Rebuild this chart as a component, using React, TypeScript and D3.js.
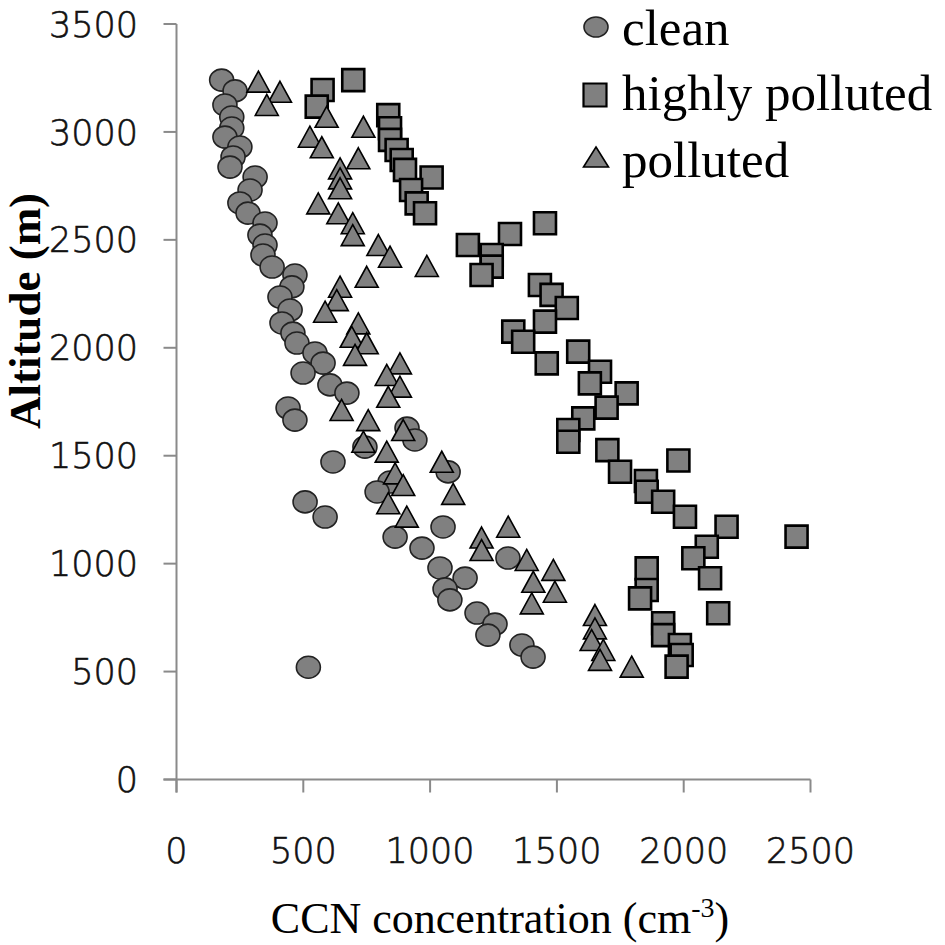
import React from "react";
import * as d3 from "d3";

const cleanCCN = [178, 231, 191, 218, 218, 191, 250, 223, 211, 310, 290, 250, 282, 349, 329, 349, 341, 377, 467, 455, 408, 448, 416, 459, 475, 546, 578, 499, 605, 672, 440, 467, 909, 940, 743, 617, 1071, 842, 791, 507, 586, 1051, 862, 968, 1307, 1039, 1138, 1059, 1078, 1185, 1256, 1228, 1362, 1406, 520];
const cleanAlt = [3240, 3190, 3125, 3069, 3018, 2976, 2930, 2884, 2837, 2791, 2731, 2671, 2624, 2578, 2522, 2476, 2430, 2374, 2337, 2282, 2235, 2175, 2115, 2068, 2022, 1976, 1929, 1883, 1828, 1790, 1721, 1665, 1628, 1573, 1540, 1471, 1425, 1378, 1332, 1286, 1216, 1170, 1123, 1072, 1026, 980, 933, 883, 832, 771, 720, 669, 623, 567, 520];

const highCCN = [697, 576, 553, 835, 842, 842, 868, 888, 901, 1006, 925, 947, 980, 1453, 1315, 1149, 1243, 1243, 1203, 1433, 1479, 1539, 1453, 1328, 1367, 1584, 1460, 1670, 1630, 1775, 1696, 1604, 1545, 1545, 1699, 1979, 1749, 1851, 1854, 1919, 2005, 2169, 2445, 2091, 2038, 2104, 1854, 1854, 1828, 2136, 1919, 1919, 1985, 1992, 1972];
const highAlt = [3240, 3194, 3117, 3078, 3017, 2963, 2916, 2870, 2824, 2789, 2731, 2669, 2623, 2577, 2527, 2476, 2430, 2376, 2337, 2291, 2245, 2184, 2121, 2075, 2028, 1982, 1928, 1889, 1835, 1789, 1723, 1673, 1619, 1565, 1526, 1478, 1426, 1383, 1333, 1287, 1217, 1171, 1125, 1078, 1025, 932, 978, 878, 839, 770, 724, 669, 623, 577, 523];

const pollCCN = [323, 408, 356, 592, 737, 526, 573, 717, 645, 645, 645, 559, 638, 695, 695, 796, 842, 987, 750, 645, 632, 586, 717, 691, 750, 704, 881, 829, 881, 835, 651, 756, 894, 737, 829, 1046, 862, 894, 1091, 835, 908, 1308, 1203, 1203, 1381, 1486, 1407, 1492, 1401, 1650, 1650, 1637, 1683, 1670, 1795];
const pollAlt = [3233, 3186, 3125, 3070, 3024, 2978, 2929, 2878, 2831, 2785, 2739, 2669, 2623, 2577, 2522, 2476, 2422, 2379, 2329, 2283, 2221, 2167, 2113, 2051, 2021, 1967, 1928, 1874, 1820, 1773, 1712, 1665, 1619, 1565, 1519, 1472, 1418, 1364, 1323, 1280, 1218, 1171, 1121, 1063, 1017, 971, 916, 870, 816, 762, 700, 646, 600, 554, 523];

const xTicks = [0, 500, 1000, 1500, 2000, 2500];
const yTicks = [0, 500, 1000, 1500, 2000, 2500, 3000, 3500];
const legendLabels = ["clean", "highly polluted", "polluted"];

const W = 945;
const H = 945;
const FILL = "#808080";
const AXIS = "#8a8a8a";

function circlePath(r: number, ry: number) {
  return `M${-r},0A${r},${ry} 0 1,0 ${r},0A${r},${ry} 0 1,0 ${-r},0Z`;
}
function squarePath(s: number) {
  const h = s / 2;
  return `M${-h},${-h}H${h}V${h}H${-h}Z`;
}
function triPath(w: number, h: number) {
  return `M0,${-h / 2}L${w / 2},${h / 2}L${-w / 2},${h / 2}Z`;
}

export default function App() {
  const x = d3.scaleLinear().domain([0, 2500]).range([176.5, 810.5]);
  const y = d3.scaleLinear().domain([0, 3500]).range([779.5, 24]);

  const clean = cleanCCN.map((v, i) => [v, cleanAlt[i]]);
  const high = highCCN.map((v, i) => [v, highAlt[i]]);
  const poll = pollCCN.map((v, i) => [v, pollAlt[i]]);

  const tickFont = "'DejaVu Sans', Verdana, sans-serif";
  const serif = "'Liberation Serif', 'Times New Roman', serif";

  const tickProps = {
    fontFamily: tickFont,
    fontWeight: 300,
    fontSize: 35,
    fill: "#111",
    stroke: "#111",
    strokeWidth: 0.6,
  };

  return (
    <svg width={W} height={H} style={{ position: "absolute", left: 0, top: 0, background: "#fff" }}>
      <rect x={0} y={0} width={W} height={H} fill="#fff" />
      {/* axes */}
      <line x1={x(0)} y1={y(3500)} x2={x(0)} y2={y(0) + 13} stroke={AXIS} strokeWidth={2} />
      <line x1={x(0) - 13} y1={y(0)} x2={x(2500)} y2={y(0)} stroke={AXIS} strokeWidth={2} />
      {yTicks.map((t) => (
        <g key={"y" + t}>
          <line x1={x(0) - 13} x2={x(0)} y1={y(t)} y2={y(t)} stroke={AXIS} strokeWidth={2} />
          <text x={138} y={y(t)} dy="0.36em" textAnchor="end" {...tickProps}>
            {t}
          </text>
        </g>
      ))}
      {xTicks.map((t) => (
        <g key={"x" + t}>
          <line x1={x(t)} x2={x(t)} y1={y(0)} y2={y(0) + 13} stroke={AXIS} strokeWidth={2} />
          <text x={x(t)} y={863} textAnchor="middle" {...tickProps}>
            {t}
          </text>
        </g>
      ))}
      {/* axis titles */}
      <text x={500} y={933} textAnchor="middle" fontFamily={serif} fontSize={44} fill="#000">
        CCN concentration (cm
        <tspan fontSize={28} dy={-16}>-3</tspan>
        <tspan dy={16}>)</tspan>
      </text>
      <text
        transform="translate(40,311) rotate(-90)"
        textAnchor="middle"
        fontFamily={serif}
        fontWeight="bold"
        fontSize={45}
        fill="#000"
      >
        Altitude (m)
      </text>
      {/* series */}
      {clean.map((d, i) => (
        <path key={"c" + i} d={circlePath(12, 11)} transform={`translate(${x(d[0])},${y(d[1])})`} fill={FILL} stroke="#222" strokeWidth={1.6} />
      ))}
      {high.map((d, i) => (
        <path key={"h" + i} d={squarePath(22)} transform={`translate(${x(d[0])},${y(d[1])})`} fill={FILL} stroke="#000" strokeWidth={2.6} />
      ))}
      {poll.map((d, i) => (
        <path key={"p" + i} d={triPath(23, 21)} transform={`translate(${x(d[0])},${y(d[1])})`} fill={FILL} stroke="#000" strokeWidth={1.6} strokeLinejoin="miter" />
      ))}
      {/* legend */}
      <path d={circlePath(12, 10)} transform="translate(596,27)" fill={FILL} stroke="#222" strokeWidth={1.6} />
      <path d={squarePath(23)} transform="translate(595,95)" fill={FILL} stroke="#000" strokeWidth={2.2} />
      <path d={triPath(25, 20)} transform="translate(596,157)" fill={FILL} stroke="#000" strokeWidth={1.6} />
      {legendLabels.map((l, i) => (
        <text key={l} x={622} y={[45, 110, 177][i]} fontFamily={serif} fontSize={51} fill="#000">
          {l}
        </text>
      ))}
    </svg>
  );
}
